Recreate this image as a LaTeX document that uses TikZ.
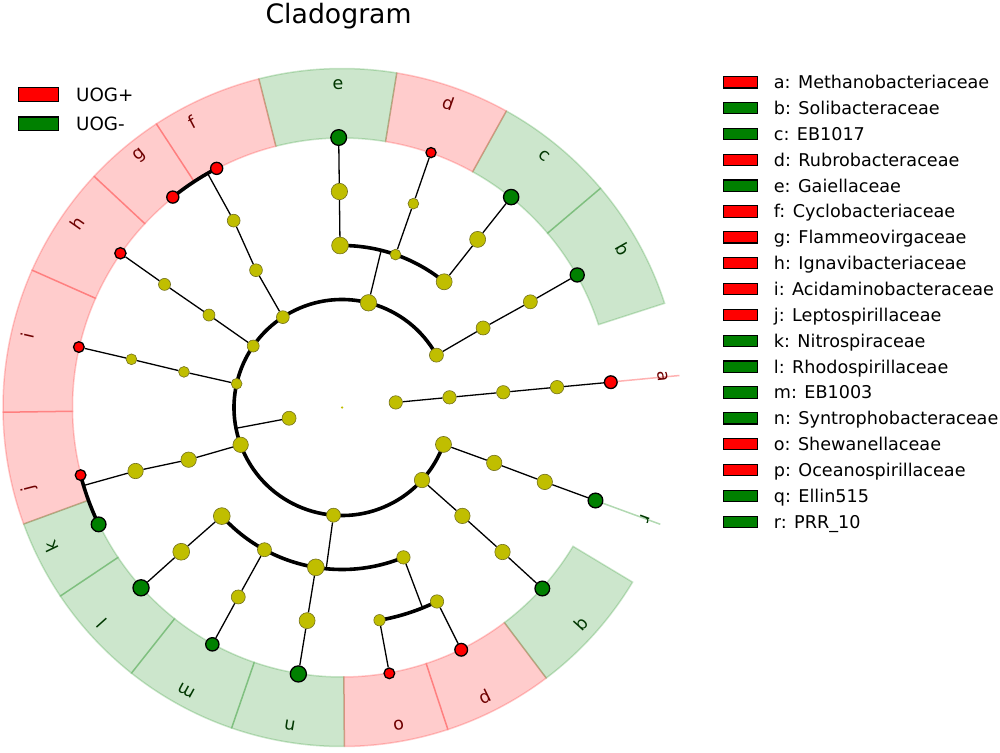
\documentclass[tikz,border=0pt]{standalone}
\usepackage{fontspec}
\setmainfont{DejaVu Sans}
\definecolor{mplred}{RGB}{255,0,0}
\definecolor{mplgreen}{RGB}{0,128,0}
\definecolor{mplyel}{RGB}{192,190,0}
\definecolor{yedge}{RGB}{115,112,30}
\definecolor{labred}{RGB}{110,0,0}
\definecolor{labgreen}{RGB}{0,55,0}
\pgfdeclarelayer{bands}
\pgfdeclarelayer{edges}
\pgfsetlayers{bands,edges,main}
\newcommand\labfont{\fontsize{17.6}{20}\selectfont}
\newcommand\uogfont{\fontsize{18.3}{21}\selectfont}
\newcommand\ttlfont{\fontsize{26.7}{30}\selectfont}
\begin{document}
\begin{tikzpicture}[x=1pt,y=1pt,
  yn/.style={circle,inner sep=0pt,fill=mplyel,draw=yedge,line width=0.6pt,minimum size=#1},
  rn/.style={circle,inner sep=0pt,fill=mplred,draw=black,line width=1.3pt,minimum size=#1},
  gn/.style={circle,inner sep=0pt,fill=mplgreen,draw=black,line width=1.3pt,minimum size=#1},
  twig/.style={line width=1.3pt,black},
  arcline/.style={line width=3.6pt,black},
  bandstyle/.style={fill=#1,draw=#1,fill opacity=0.2,draw opacity=0.2,line width=1.5pt},
  legpatch/.style={rectangle,draw=black,line width=1.2pt,inner sep=0pt,minimum width=34pt,minimum height=11.3pt},
  uogpatch/.style={rectangle,draw=black,line width=1.2pt,inner sep=0pt,minimum width=39.8pt,minimum height=13.8pt}
]
\useasboundingbox (-342,-344.5) rectangle (658,407.5);

% title
\node[font=\ttlfont,anchor=base] (title) at (-3.4,383.9) {Cladogram};

% ---------- nodes ----------
\node[yn=2.5pt,draw=none] (ctr) at (0,0) {};
\node[yn=13.4pt] (Ka) at (5.4:54) {};
\node[yn=14pt] (Kb) at (191.5:54) {};
\node[yn=13.4pt] (a2) at (5.4:108) {};
\node[yn=13.4pt] (a3) at (5.4:162) {};
\node[yn=13.4pt] (a4) at (5.4:216) {};
\node[rn=12.7pt] (aL) at (5.38:270) {};

\node[yn=14pt] (Pb) at (29:108) {};
\node[yn=16.4pt] (P1) at (75.8:108) {};
\node[yn=12.8pt] (Pfg) at (123.2:108) {};
\node[yn=12pt] (Ph) at (145.3:108) {};
\node[yn=10.8pt] (Pi) at (167.3:108) {};
\node[yn=15.4pt] (Pj) at (200.2:108) {};
\node[yn=14pt] (Plm) at (265.5:108) {};
\node[yn=15.4pt] (Pq) at (317.8:108) {};
\node[yn=16pt] (Pr) at (340:108) {};

\node[yn=14pt] (b3) at (29.4:162) {};
\node[yn=14pt] (b4) at (29.3:216) {};
\node[gn=14.1pt] (bL) at (29.4:270) {};

\coordinate (jP1) at (76:162);
\node[yn=16.8pt] (Oe) at (90.7:162) {};
\node[yn=16.4pt] (e4) at (90.7:216) {};
\node[gn=15.7pt] (eL) at (90.7:270) {};
\node[yn=10.8pt] (Od) at (70.7:162) {};
\node[yn=10.8pt] (d4) at (70.7:216) {};
\node[rn=10.1pt] (dL) at (70.75:270) {};
\node[yn=16pt] (Oc) at (50.9:162) {};
\node[yn=16pt] (c4) at (51.1:216) {};
\node[gn=15.3pt] (cL) at (51.2:270) {};

\node[yn=12.8pt] (fg3) at (122.06:162) {};
\node[yn=12.8pt] (fg4) at (120.1:216) {};
\coordinate (jfg) at (119.86:270);
\node[rn=12.1pt] (fL) at (117.66:270) {};
\node[rn=12.1pt] (gL) at (128.8:270) {};

\node[yn=12pt] (h3) at (145.2:162) {};
\node[yn=12pt] (h4) at (145.25:216) {};
\node[rn=11.3pt] (hL) at (145.16:270) {};

\node[yn=10.8pt] (i3) at (167.3:162) {};
\node[yn=10.8pt] (i4) at (167.1:216) {};
\node[rn=10.7pt] (iL) at (167.06:270) {};

\node[yn=15.4pt] (j3) at (198.8:162) {};
\node[yn=15.4pt] (j4) at (197.1:216) {};
\coordinate (jjk) at (196.8:270);
\node[rn=10.7pt] (jL) at (194.5:270) {};
\node[gn=14.7pt] (kL) at (205.65:270) {};

\coordinate (jlm) at (264.4:162);
\node[yn=16.8pt] (Ol) at (222.1:162) {};
\node[yn=16.8pt] (l4) at (221.9:216) {};
\node[gn=16.1pt] (lL) at (221.9:270) {};
\node[yn=14pt] (Om) at (241.4:162) {};
\node[yn=14pt] (m4) at (241.3:216) {};
\node[gn=13.3pt] (mL) at (241.3:270) {};
\node[yn=16.8pt] (On) at (260.7:162) {};
\node[yn=16pt] (n4) at (260.7:216) {};
\node[gn=16.1pt] (nL) at (260.7:270) {};
\node[yn=13.4pt] (Oop) at (292.3:162) {};
\coordinate (jop) at (291.9:216);
\node[yn=11.4pt] (Fo) at (280:216) {};
\node[yn=13.4pt] (Fp) at (296.1:216) {};
\node[rn=10.7pt] (oL) at (280.1:270) {};
\node[rn=12.7pt] (pL) at (296.2:270) {};

\node[yn=15.4pt] (q3) at (318:162) {};
\node[yn=15.4pt] (q4) at (318:216) {};
\node[gn=14.7pt] (qL) at (317.9:270) {};
\node[yn=15.4pt] (r3) at (340:162) {};
\node[yn=15.4pt] (r4) at (339.85:216) {};
\node[gn=14.7pt] (rL) at (339.85:270) {};

\coordinate (jB) at (191.1:108);

% ---------- connectors ----------
\begin{pgfonlayer}{edges}
\draw[twig] (Ka) -- (a2) -- (a3) -- (a4) -- (aL);
\draw[twig] (Kb) -- (jB);
\draw[twig] (Pb) -- (b3) -- (b4) -- (bL);
\draw[twig] (P1) -- (jP1);
\draw[twig] (Oe) -- (e4) -- (eL);
\draw[twig] (Od) -- (d4) -- (dL);
\draw[twig] (Oc) -- (c4) -- (cL);
\draw[twig] (Pfg) -- (fg3) -- (fg4) -- (jfg);
\draw[twig] (Ph) -- (h3) -- (h4) -- (hL);
\draw[twig] (Pi) -- (i3) -- (i4) -- (iL);
\draw[twig] (Pj) -- (j3) -- (j4) -- (jjk);
\draw[twig] (Plm) -- (jlm);
\draw[twig] (Ol) -- (l4) -- (lL);
\draw[twig] (Om) -- (m4) -- (mL);
\draw[twig] (On) -- (n4) -- (nL);
\draw[twig] (Oop) -- (jop);
\draw[twig] (Fo) -- (oL);
\draw[twig] (Fp) -- (pL);
\draw[twig] (Pq) -- (q3) -- (q4) -- (qL);
\draw[twig] (Pr) -- (r3) -- (r4) -- (rL);
% arcs
\draw[arcline] (Pb.center) arc[start angle=29,end angle=340,radius=108pt];
\draw[arcline] (Oc.center) arc[start angle=50.9,end angle=90.7,radius=162pt];
\draw[arcline] (fL.center) arc[start angle=117.66,end angle=128.8,radius=270pt];
\draw[arcline] (jL.center) arc[start angle=194.5,end angle=205.65,radius=270pt];
\draw[arcline] (Ol.center) arc[start angle=222.1,end angle=292.3,radius=162pt];
\draw[arcline] (Fo.center) arc[start angle=280,end angle=296.1,radius=216pt];
\end{pgfonlayer}

% ---------- bands ----------
\begin{pgfonlayer}{bands}
\foreach \s/\e/\c in {17.9/40.3/mplgreen, 40.3/61.0/mplgreen, 61.0/80.7/mplred,
  80.7/104.2/mplgreen, 104.2/123.2/mplred, 123.2/137.0/mplred, 137.0/156.1/mplred,
  156.1/180.8/mplred, 180.8/200.1/mplred, 200.1/213.8/mplgreen, 213.8/231.6/mplgreen,
  231.6/251.0/mplgreen, 251.0/270.4/mplgreen, 270.4/288.2/mplred, 288.2/307.05/mplred,
  307.05/329.0/mplgreen}{
  \path[bandstyle=\c] (\s:269.5) arc[start angle=\s,end angle=\e,radius=269.5pt]
    -- (\e:339) arc[start angle=\e,end angle=\s,radius=339pt] -- cycle;
}
\draw[mplred,draw opacity=0.3,line width=1.5pt] (5.42:269.5) -- (5.42:339);
\draw[mplgreen,draw opacity=0.3,line width=1.5pt] (339.85:269.5) -- (339.85:339);
\end{pgfonlayer}

% band labels
\foreach \l/\m/\tc in {a/5.5/labred, b/29.4/labgreen, c/51.2/labgreen, d/70.75/labred,
  e/90.7/labgreen, f/117.66/labred, g/128.8/labred, h/145.16/labred, i/167.06/labred,
  j/194.5/labred, k/205.65/labgreen, l/221.9/labgreen, m/241.3/labgreen, n/260.7/labgreen,
  o/280.1/labred, p/296.2/labred, q/317.9/labgreen, r/339.9/labgreen}{
  \node[font=\labfont,text=\tc,rotate=\m-90,inner sep=0pt] (lab\l) at (\m:322.7) {\l};
}

% ---------- UOG legend ----------
\node[uogpatch,fill=mplred] (uogp) at (-303.2,312.7) {};
\node[uogpatch,fill=mplgreen] (uogm) at (-303.2,283.5) {};
\node[font=\uogfont,anchor=base west,inner sep=0pt] (uogpt) at (-266,306.1) {UOG+};
\node[font=\uogfont,anchor=base west,inner sep=0pt] (uogmt) at (-266,276.9) {UOG-};

% ---------- clade legend ----------
\foreach \k/\c/\t in {0/mplred/{a: Methanobacteriaceae}, 1/mplgreen/{b: Solibacteraceae},
  2/mplgreen/{c: EB1017}, 3/mplred/{d: Rubrobacteraceae}, 4/mplgreen/{e: Gaiellaceae},
  5/mplred/{f: Cyclobacteriaceae}, 6/mplred/{g: Flammeovirgaceae},
  7/mplred/{h: Ignavibacteriaceae}, 8/mplred/{i: Acidaminobacteraceae},
  9/mplred/{j: Leptospirillaceae}, 10/mplgreen/{k: Nitrospiraceae},
  11/mplgreen/{l: Rhodospirillaceae}, 12/mplgreen/{m: EB1003},
  13/mplgreen/{n: Syntrophobacteraceae}, 14/mplred/{o: Shewanellaceae},
  15/mplred/{p: Oceanospirillaceae}, 16/mplgreen/{q: Ellin515}, 17/mplgreen/{r: PRR\_10}}{
  \node[legpatch,fill=\c] (lp\k) at (398.35,{325.2-25.85*\k}) {};
  \node[font=\labfont,anchor=base west,inner sep=0pt] (lt\k) at (431.7,{325.2-25.85*\k-6.4}) {\t};
}
\end{tikzpicture}
\end{document}
